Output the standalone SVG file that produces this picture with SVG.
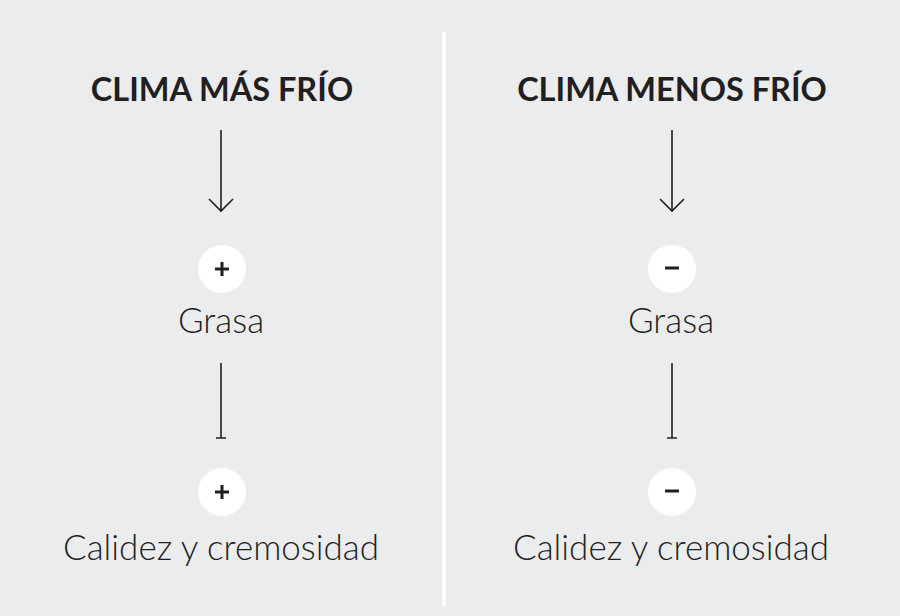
<svg xmlns="http://www.w3.org/2000/svg" width="900" height="616" viewBox="0 0 900 616">
<style>
.h{font-family:Lato,"Noto Sans","Liberation Sans",sans-serif;font-weight:700;font-size:32.5px;fill:#231f20;text-anchor:middle}
.t{font-family:Lato,"Noto Sans","Liberation Sans",sans-serif;font-weight:300;font-size:35px;fill:#231f20;text-anchor:middle}
.c{fill:#ffffff}
.s{stroke:#231f20;stroke-width:3;stroke-linecap:butt}
.l{stroke:#231f20;stroke-width:1.6;fill:none}
</style>
<rect width="900" height="616" fill="#ebecee"/>
<line x1="444" y1="32" x2="444" y2="606" stroke="#ffffff" stroke-width="3.5"/>
<g id="connectors">
<path class="l" d="M221 130V211M209 199L221 211L233 199"/>
<path class="l" d="M221 363V438M216 438H226"/>
<path class="l" d="M672 130V211M660 199L672 211L684 199"/>
<path class="l" d="M672 363V438M667 438H677"/>
</g>
<g id="head-left"><text class="h" x="222" y="101">CLIMA MÁS FRÍO</text></g>
<g id="head-right"><text class="h" x="672" y="101">CLIMA MENOS FRÍO</text></g>
<g id="plus1"><circle class="c" cx="222" cy="269" r="24"/><path class="s" d="M215 269H229M222 262V276"/></g>
<g id="grasa-left"><text class="t" x="221" y="333">Grasa</text></g>
<g id="plus2"><circle class="c" cx="222" cy="492" r="24"/><path class="s" d="M215 492H229M222 485V499"/></g>
<g id="calidez-left"><text class="t" x="221" y="560">Calidez y cremosidad</text></g>
<g id="minus1"><circle class="c" cx="672" cy="269" r="24"/><path class="s" d="M665 268H679"/></g>
<g id="grasa-right"><text class="t" x="671" y="333">Grasa</text></g>
<g id="minus2"><circle class="c" cx="672" cy="492" r="24"/><path class="s" d="M665 491H679"/></g>
<g id="calidez-right"><text class="t" x="671" y="560">Calidez y cremosidad</text></g>
</svg>
